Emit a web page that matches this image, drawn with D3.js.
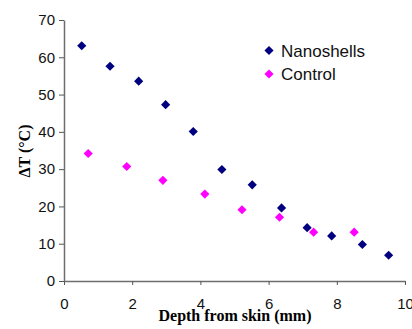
<!DOCTYPE html>
<html>
<head>
<meta charset="utf-8">
<script src="https://cdn.jsdelivr.net/npm/d3@7"></script>
<style>
  body { margin: 0; background: #fff; }
</style>
</head>
<body>
<svg></svg>
<script>
//--Data
var nanoX = [0.52, 1.35, 2.19, 2.98, 3.79, 4.63, 5.52, 6.38, 7.13, 7.85, 8.75, 9.52];
var nanoY = [63.1, 57.6, 53.6, 47.3, 40.1, 29.9, 25.8, 19.6, 14.3, 12.1, 9.8, 6.9];
var ctrlX = [0.71, 1.84, 2.9, 4.13, 5.22, 6.32, 7.32, 8.51];
var ctrlY = [34.2, 30.7, 27.0, 23.3, 19.1, 17.1, 13.1, 13.1];
var seriesNames = ["Nanoshells", "Control"];
var seriesColors = ["#000080", "#FF00FF"];
var xTicks = [0, 2, 4, 6, 8, 10];
var yTicks = [0, 10, 20, 30, 40, 50, 60, 70];

//Shared info
var canvas = { width: 412, height: 329 };
canvas.x = d3.scaleLinear().domain([0, 10]).range([64, 405]);
canvas.y = d3.scaleLinear().domain([0, 70]).range([281, 20]);

let root = d3.select("svg")
  .attr("width", canvas.width)
  .attr("height", canvas.height)
  .style("font-family", "Liberation Sans, Arial, sans-serif");

//Axes
let xAxis = root.append("g")
  .attr("transform", "translate(0," + canvas.y(0) + ")")
  .call(d3.axisBottom(canvas.x).tickValues(xTicks).tickSize(4).tickPadding(13).tickSizeOuter(0));
let yAxis = root.append("g")
  .attr("transform", "translate(" + canvas.x(0) + ",0)")
  .call(d3.axisLeft(canvas.y).tickValues(yTicks).tickSize(5).tickPadding(4).tickSizeOuter(0));
[xAxis, yAxis].forEach(a => {
  a.selectAll(".domain").attr("stroke", "#6e6e6e").attr("stroke-width", 1.5);
  a.selectAll(".tick line").attr("stroke", "#555");
  a.selectAll("text")
    .style("font-family", "Liberation Sans, Arial, sans-serif")
    .style("font-size", "15px")
    .attr("fill", "#111");
});

//Axis titles
root.append("text")
  .attr("x", 235)
  .attr("y", 321)
  .attr("text-anchor", "middle")
  .style("font-family", "Liberation Serif, Times New Roman, serif")
  .style("font-weight", "bold")
  .style("font-size", "16px")
  .text("Depth from skin (mm)");
root.append("text")
  .attr("transform", "translate(30,151) rotate(-90)")
  .attr("text-anchor", "middle")
  .style("font-family", "Liberation Serif, Times New Roman, serif")
  .style("font-weight", "bold")
  .style("font-size", "16px")
  .text("\u0394T (\u00B0C)");

//Scatter
let diamond = d3.symbol().type(d3.symbolSquare).size(42);
function drawSeries(xs, ys, color) {
  root.append("g")
    .selectAll("path")
    .data(xs.map((v, i) => [v, ys[i]]))
    .enter()
    .append("path")
    .attr("d", diamond)
    .attr("transform", d => "translate(" + canvas.x(d[0]) + "," + canvas.y(d[1]) + ") rotate(45)")
    .attr("fill", color);
}
drawSeries(ctrlX, ctrlY, seriesColors[1]);
drawSeries(nanoX, nanoY, seriesColors[0]);

//Legend
let legend = root.append("g")
  .selectAll("g")
  .data(seriesNames)
  .enter()
  .append("g")
  .attr("transform", (d, i) => "translate(269," + (50.5 + i * 23.5) + ")");
legend.append("path")
  .attr("d", diamond)
  .attr("transform", "rotate(45)")
  .attr("fill", (d, i) => seriesColors[i]);
legend.append("text")
  .attr("x", 12)
  .attr("y", 6)
  .style("font-size", "17px")
  .attr("fill", "#111")
  .text(d => d);
</script>
</body>
</html>
